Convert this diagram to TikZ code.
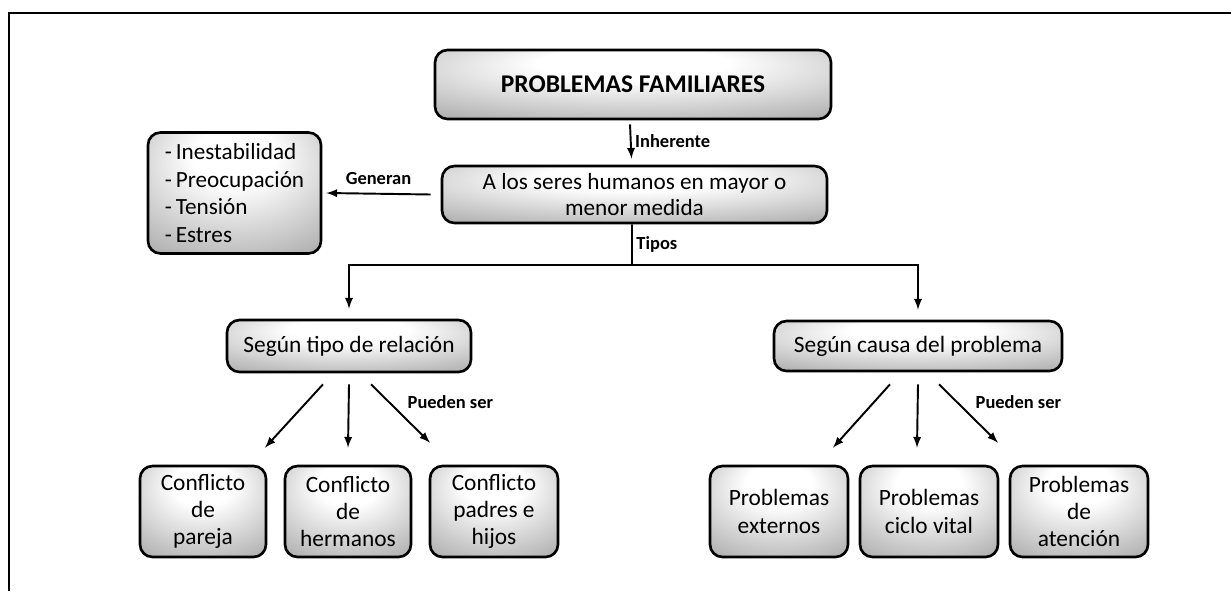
\documentclass[tikz,border=0pt]{standalone}
\usepackage{fontspec}
\setmainfont{Carlito}
\pgfdeclareradialshading{boxshade}{\pgfpoint{0bp}{18bp}}{color(0bp)=(white); color(12bp)=(white); color(50bp)=(black!42); color(75bp)=(black!55)}
\tikzset{
  box/.style={draw, line width=1.5pt, rounded corners=0.25cm, shading=boxshade, align=center, inner sep=2pt, font=\fontsize{13.3}{15.6}\selectfont},
  lbl/.style={font=\bfseries\fontsize{10.5}{12}\selectfont, inner sep=2pt},
  arr/.style={-latex, line width=1.1pt}
}

\begin{document}
\begin{tikzpicture}
\useasboundingbox (0,0) rectangle (24.62,11.82);
\draw [line width=1.5pt] (0.18,0) -- (0.18,11.56) -- (24.62,11.56);

\node [box, minimum width=7.92cm, minimum height=1.38cm, font=\bfseries\fontsize{14.5}{16}\selectfont] (title) at (12.66,10.13) {PROBLEMAS FAMILIARES};
\node [box, minimum width=7.7cm, minimum height=1.14cm, font=\fontsize{13.2}{15.3}\selectfont] (humanos) at (12.69,7.93) {A los seres humanos en mayor o\\menor medida};
\node [box, minimum width=3.46cm, minimum height=2.42cm, align=left, font=\fontsize{13.2}{15.6}\selectfont] (efectos) at (4.69,7.96) {-\,Inestabilidad\\-\,Preocupación\\-\,Tensión\\-\,Estres};
\node [box, minimum width=4.88cm, minimum height=1.04cm] (relacion) at (6.98,4.90) {Según tipo de relación};
\node [box, minimum width=5.76cm, minimum height=1cm] (causa) at (18.36,4.90) {Según causa del problema};

\node [box, minimum width=2.52cm, minimum height=1.82cm] (pareja) at (4.06,1.59) {Conflicto\\de\\pareja};
\node [box, minimum width=2.52cm, minimum height=1.82cm] (hermanos) at (6.96,1.59) {Conflicto\\de\\hermanos};
\node [box, minimum width=2.56cm, minimum height=1.82cm] (padres) at (9.88,1.59) {Conflicto\\padres e\\hijos};
\node [box, minimum width=2.76cm, minimum height=1.82cm] (externos) at (15.58,1.59) {Problemas\\externos};
\node [box, minimum width=2.76cm, minimum height=1.82cm] (ciclo) at (18.58,1.59) {Problemas\\ciclo vital};
\node [box, minimum width=2.76cm, minimum height=1.82cm] (atencion) at (21.58,1.59) {Problemas\\de\\atención};

% enlaces superiores
\draw [arr] ([xshift=-0.06cm,yshift=-0.08cm]title.south) -- ([xshift=-0.06cm,yshift=0.12cm]humanos.north) node [midway,right,lbl] {Inherente};
\draw [arr] ([xshift=-0.2cm]humanos.west) -- ([xshift=0.08cm]efectos.east) node [midway,above,lbl,yshift=0.1cm] {Generan};
\coordinate (fork) at (12.64,6.52);
\draw [line width=1.1pt] ([xshift=-0.05cm]humanos.south) -- (fork) node [midway,right,lbl] {Tipos};
\draw [arr] (fork) -| ([yshift=0.2cm]relacion.north);
\draw [arr] (fork) -| ([yshift=0.2cm]causa.north);

% tipos de relacion
\draw [arr] ([xshift=-0.52cm,yshift=-0.22cm]relacion.south) -- ([xshift=1.24cm,yshift=0.34cm]pareja.north);
\draw [arr] ([yshift=-0.22cm]relacion.south) -- ([yshift=0.34cm]hermanos.north);
\draw [arr] ([xshift=0.44cm,yshift=-0.22cm]relacion.south) -- ([xshift=-1.28cm,yshift=0.44cm]padres.north) node [pos=0.3,anchor=west,xshift=0.29cm,lbl] {Pueden ser};

% causas
\draw [arr] ([xshift=-0.56cm,yshift=-0.24cm]causa.south) -- ([xshift=1.08cm,yshift=0.34cm]externos.north);
\draw [arr] ([yshift=-0.24cm]causa.south) -- ([xshift=-0.24cm,yshift=0.34cm]ciclo.north);
\draw [arr] ([xshift=0.42cm,yshift=-0.24cm]causa.south) -- ([xshift=-1.62cm,yshift=0.44cm]atencion.north) node [pos=0.3,anchor=west,xshift=0.29cm,lbl] {Pueden ser};
\end{tikzpicture}
\end{document}
